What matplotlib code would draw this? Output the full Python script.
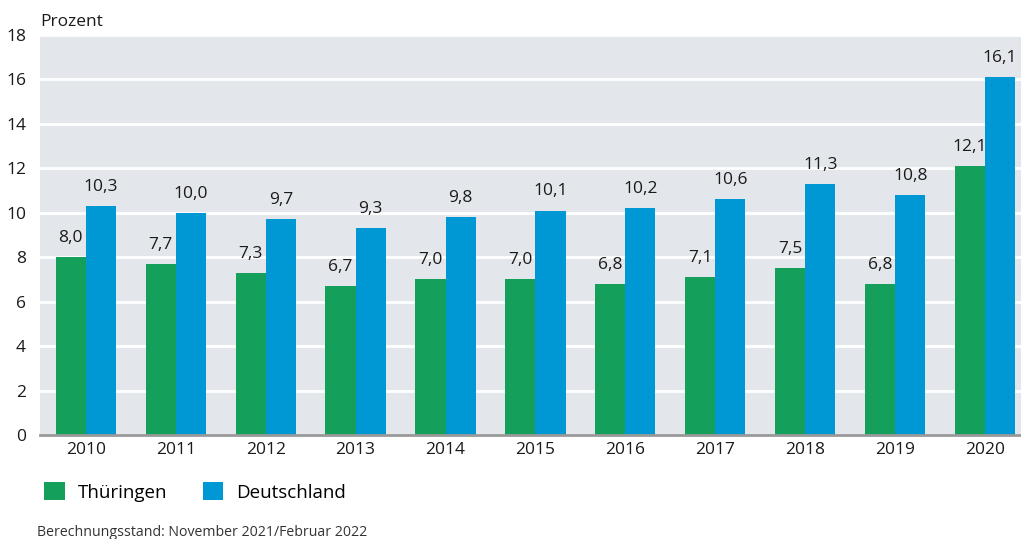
import numpy as np
import matplotlib.pyplot as plt

plt.rcParams['font.family'] = ['Open Sans', 'DejaVu Sans']

jahre = ['2010', '2011', '2012', '2013', '2014', '2015', '2016', '2017', '2018', '2019', '2020']
thueringen = [8.0, 7.7, 7.3, 6.7, 7.0, 7.0, 6.8, 7.1, 7.5, 6.8, 12.1]
deutschland = [10.3, 10.0, 9.7, 9.3, 9.8, 10.1, 10.2, 10.6, 11.3, 10.8, 16.1]

gruen = '#14a05a'
blau = '#0098d4'

fig = plt.figure(figsize=(10.21, 5.39), dpi=100)
ax = fig.add_axes([40 / 1021, 1 - 435 / 539, 981 / 1021, 400 / 539])
ax.set_facecolor('#e3e7eb')

x = np.arange(len(jahre))
w = 0.335
b1 = ax.bar(x - w / 2, thueringen, w, color=gruen, label='Thüringen', zorder=3)
b2 = ax.bar(x + w / 2, deutschland, w, color=blau, label='Deutschland', zorder=3)

def fmt(v):
    return ('%.1f' % v).replace('.', ',')

for bars, vals in ((b1, thueringen), (b2, deutschland)):
    for r, v in zip(bars, vals):
        ax.text(r.get_x() + r.get_width() / 2, v + 0.5, fmt(v), ha='center', va='bottom',
                fontsize=12.5, color='#1a1a1a')

ax.set_ylim(0, 18)
ax.set_xlim(-0.51, 10.4)
ax.set_yticks(range(0, 19, 2))
ax.set_xticks(x)
ax.set_xticklabels(jahre)
ax.yaxis.grid(True, color='white', linewidth=2, zorder=1)
ax.set_axisbelow(True)
for s in ['top', 'right', 'left']:
    ax.spines[s].set_visible(False)
ax.spines['bottom'].set_color('#999999')
ax.spines['bottom'].set_linewidth(2)
ax.spines['bottom'].set_zorder(4)
ax.tick_params(axis='both', length=0, labelsize=12.5, colors='#1a1a1a')
ax.tick_params(axis='y', pad=10)
ax.tick_params(axis='x', pad=5)

fig.text(40 / 1021, 1 - 22 / 539, 'Prozent', fontsize=12.5, va='center', ha='left', color='#1a1a1a')

fig.legend(handles=[b1, b2], loc='center left', bbox_to_anchor=(27 / 1021, 1 - 492 / 539),
           ncol=2, frameon=False, fontsize=13.5, handlelength=1.1, handleheight=1.1,
           columnspacing=1.9, handletextpad=0.7)

fig.text(37 / 1021, 1 - 532 / 539, 'Berechnungsstand: November 2021/Februar 2022', fontsize=10.2,
         va='center', ha='left', color='#333333')

fig.savefig('out.png', dpi=100)
